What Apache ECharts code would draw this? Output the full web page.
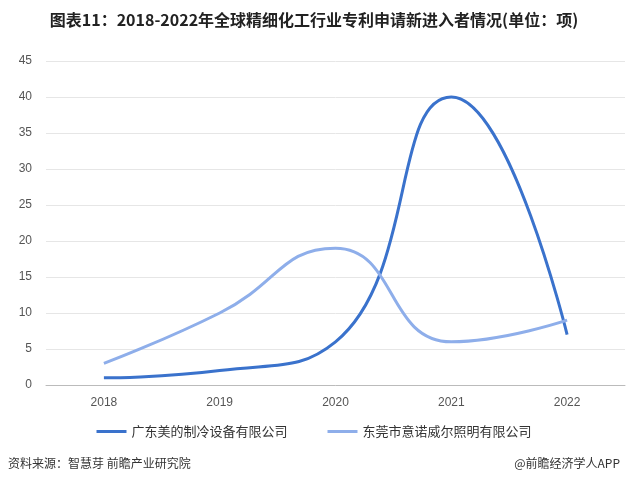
<!DOCTYPE html>
<html><head><meta charset="utf-8">
<script src="https://cdn.jsdelivr.net/npm/echarts@6/dist/echarts.min.js"></script>
<style>html,body{margin:0;padding:0;background:#fff}#c{width:628px;height:485px}</style>
</head><body><div id="c"></div>
<script>
const categories = ['2018','2019','2020','2021','2022'];
const seriesA = [1, 2, 6, 40, 7];
const seriesB = [3, 10, 19, 6, 9];
const nameA = '广东美的制冷设备有限公司';
const nameB = '东莞市意诺威尔照明有限公司';
const chart = echarts.init(document.getElementById('c'));
chart.setOption({
  animation:false,
  title:{text:'图表11：2018-2022年全球精细化工行业专利申请新进入者情况(单位：项)',left:'center',top:7,
    textStyle:{fontSize:16,fontWeight:'bold',color:'#222',fontFamily:'Noto Sans CJK SC'}},
  grid:{left:46,right:3,top:61,bottom:100},
  legend:{bottom:42,itemWidth:30,itemHeight:3,itemGap:40,icon:'rect',
    textStyle:{fontSize:13,color:'#333',fontFamily:'Noto Sans CJK SC'}},
  graphic:[
    {type:'text',left:8,top:457,style:{text:'资料来源：智慧芽 前瞻产业研究院',fontSize:12,fill:'#333',fontFamily:'Noto Sans CJK SC'}},
    {type:'text',right:8,top:457,style:{text:'@前瞻经济学人APP',fontSize:12,fill:'#333',fontFamily:'Noto Sans CJK SC'}}
  ],
  xAxis:{type:'category',data:categories,axisLine:{lineStyle:{color:'#bbb'}},axisTick:{show:false},
    axisLabel:{color:'#555',fontSize:12,margin:12}},
  yAxis:{type:'value',min:0,max:45,interval:5,axisLine:{show:false},axisTick:{show:false},
    axisLabel:{color:'#555',fontSize:12,margin:14},splitLine:{lineStyle:{color:'#e6e6e6'}}},
  series:[
    {name:nameA,type:'line',smooth:true,data:seriesA,symbol:'none',lineStyle:{width:3,color:'#3a72cc'},itemStyle:{color:'#3a72cc'}},
    {name:nameB,type:'line',smooth:true,data:seriesB,symbol:'none',lineStyle:{width:3,color:'#8eaeea'},itemStyle:{color:'#8eaeea'}}
  ]
});
</script></body></html>
